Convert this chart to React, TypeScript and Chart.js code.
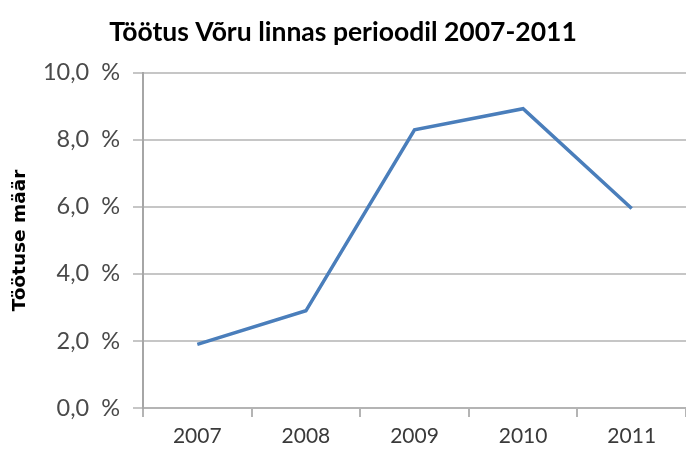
import React, { useEffect, useRef } from "react";
import { Chart, registerables } from "chart.js";

Chart.register(...registerables);

const years = ["2007", "2008", "2009", "2010", "2011"];
const unemploymentRate = [1.9, 2.9, 8.3, 8.93, 5.95];
const yTicks = [0, 2, 4, 6, 8, 10];
const chartTitle = "Töötus Võru linnas perioodil 2007-2011";
const yAxisTitle = "Töötuse määr";

const FONT = "Lato, 'Open Sans', sans-serif";

export default function App() {
  const ref = useRef<HTMLCanvasElement | null>(null);

  useEffect(() => {
    document.body.style.margin = "0";
    const canvas = ref.current;
    if (!canvas) return;
    const chart = new Chart(canvas, {
      type: "line",
      data: {
        labels: years,
        datasets: [
          {
            data: unemploymentRate,
            borderColor: "#4a7ebb",
            borderWidth: 3.5,
            pointRadius: 0,
            tension: 0,
            fill: false,
          },
        ],
      },
      options: {
        responsive: false,
        animation: false,
        layout: { padding: { left: 0, right: 0, top: 0, bottom: 0 } },
        plugins: {
          legend: { display: false },
          tooltip: { enabled: false },
          title: {
            display: true,
            text: chartTitle,
            color: "#000000",
            font: { family: FONT, size: 26.5, weight: "bold" },
            padding: { top: 17, bottom: 24 },
          },
        },
        scales: {
          x: {
            type: "category",
            offset: true,
            grid: {
              offset: true,
              drawOnChartArea: false,
              drawTicks: true,
              tickLength: 9,
              color: "#b4b4b4",
              lineWidth: 2,
            },
            border: { color: "#b4b4b4", width: 2 },
            ticks: {
              color: "#3a3a3a",
              font: { family: FONT, size: 21 },
              padding: 7,
              maxRotation: 0,
            },
            afterFit: (scale: any) => {
              scale.height = 44;
            },
          },
          y: {
            min: 0,
            max: 10,
            afterBuildTicks: (scale: any) => {
              scale.ticks = yTicks.map((v) => ({ value: v }));
            },
            grid: {
              color: "#c6c6c6",
              lineWidth: 2,
              tickLength: 10,
            },
            border: { color: "#a6a6a6", width: 2 },
            ticks: {
              color: "#4a4a4a",
              font: { family: FONT, size: 23.5 },
              padding: 13,
              callback: (v: any) => Number(v).toFixed(1).replace(".", ",") + "  %",
            },
            title: {
              display: true,
              text: yAxisTitle,
              color: "#000000",
              font: { family: "'DejaVu Sans', sans-serif", size: 18.5, weight: "bold" },
              padding: { top: 9, bottom: 0 },
            },
            afterFit: (scale: any) => {
              scale.width = 143;
            },
          },
        },
      },
    });
    return () => chart.destroy();
  }, []);

  return (
    <div style={{ position: "absolute", left: 0, top: 0, width: 686, height: 452, background: "#ffffff" }}>
      <canvas ref={ref} width={686} height={452} style={{ display: "block" }} />
    </div>
  );
}
